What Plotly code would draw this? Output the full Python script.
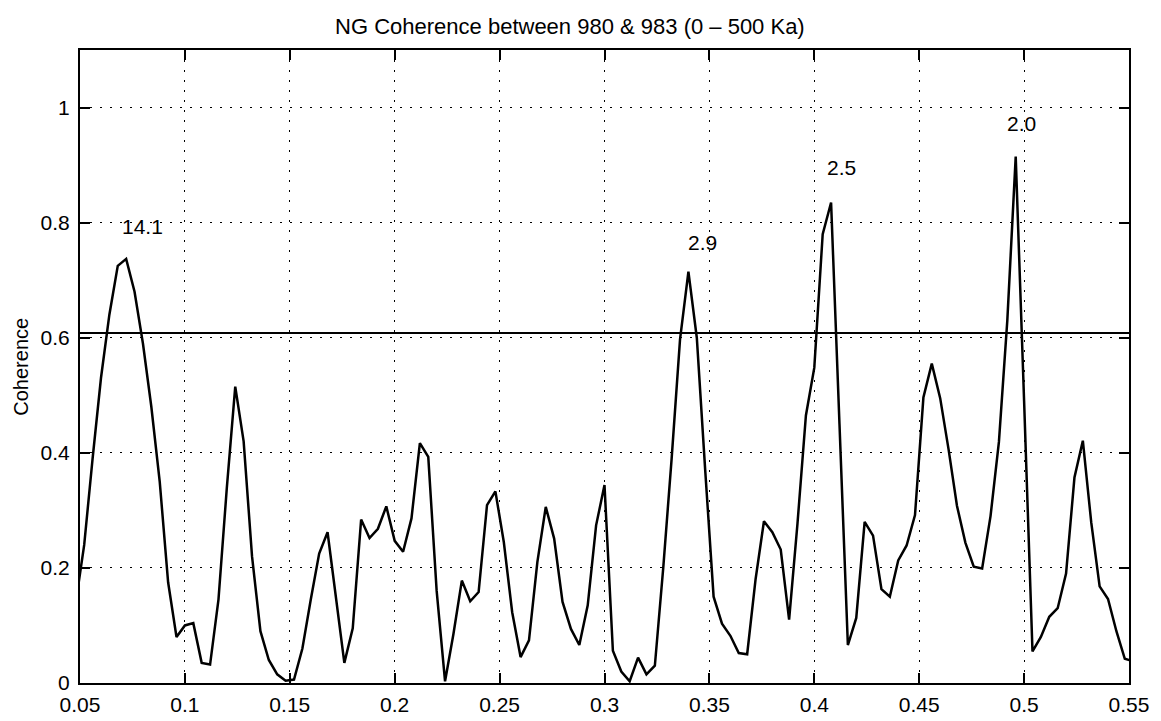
import plotly.graph_objects as go

# Frequency (cycles/ka) and squared coherence between sites 980 and 983
freq = [
    0.048, 0.052, 0.056, 0.060, 0.064, 0.068, 0.072, 0.076, 0.080, 0.084,
    0.088, 0.092, 0.096, 0.100, 0.104, 0.108, 0.112, 0.116, 0.120, 0.124,
    0.128, 0.132, 0.136, 0.140, 0.144, 0.148, 0.152, 0.156, 0.160, 0.164,
    0.168, 0.172, 0.176, 0.180, 0.184, 0.188, 0.192, 0.196, 0.200, 0.204,
    0.208, 0.212, 0.216, 0.220, 0.224, 0.228, 0.232, 0.236, 0.240, 0.244,
    0.248, 0.252, 0.256, 0.260, 0.264, 0.268, 0.272, 0.276, 0.280, 0.284,
    0.288, 0.292, 0.296, 0.300, 0.304, 0.308, 0.312, 0.316, 0.320, 0.324,
    0.328, 0.332, 0.336, 0.340, 0.344, 0.348, 0.352, 0.356, 0.360, 0.364,
    0.368, 0.372, 0.376, 0.380, 0.384, 0.388, 0.392, 0.396, 0.400, 0.404,
    0.408, 0.412, 0.416, 0.420, 0.424, 0.428, 0.432, 0.436, 0.440, 0.444,
    0.448, 0.452, 0.456, 0.460, 0.464, 0.468, 0.472, 0.476, 0.480, 0.484,
    0.488, 0.492, 0.496, 0.500, 0.504, 0.508, 0.512, 0.516, 0.520, 0.524,
    0.528, 0.532, 0.536, 0.540, 0.544, 0.548, 0.552,
]
coherence = [
    0.140, 0.240, 0.390, 0.530, 0.640, 0.725, 0.737, 0.680, 0.590, 0.480,
    0.350, 0.175, 0.080, 0.100, 0.104, 0.035, 0.032, 0.145, 0.340, 0.515,
    0.420, 0.220, 0.090, 0.040, 0.015, 0.004, 0.006, 0.060, 0.145, 0.225,
    0.262, 0.150, 0.035, 0.095, 0.284, 0.252, 0.268, 0.307, 0.247, 0.228,
    0.286, 0.417, 0.393, 0.160, 0.003, 0.085, 0.178, 0.142, 0.158, 0.309,
    0.333, 0.245, 0.123, 0.045, 0.074, 0.210, 0.306, 0.251, 0.141, 0.094,
    0.066, 0.135, 0.274, 0.344, 0.056, 0.020, 0.003, 0.044, 0.015, 0.030,
    0.200, 0.390, 0.597, 0.715, 0.600, 0.370, 0.150, 0.103, 0.082, 0.052,
    0.050, 0.180, 0.281, 0.262, 0.232, 0.110, 0.278, 0.465, 0.548, 0.780,
    0.835, 0.450, 0.066, 0.113, 0.280, 0.256, 0.163, 0.150, 0.213, 0.239,
    0.292, 0.496, 0.555, 0.495, 0.406, 0.308, 0.244, 0.202, 0.199, 0.290,
    0.419, 0.630, 0.915, 0.490, 0.055, 0.080, 0.115, 0.130, 0.190, 0.357,
    0.421, 0.279, 0.168, 0.146, 0.090, 0.042, 0.038,
]

# Significance level
significance = 0.608

# Period labels (ka) placed above the coherent peaks
peak_labels = ["14.1", "2.9", "2.5", "2.0"]
peak_label_x = [0.069, 0.339, 0.405, 0.491]
peak_label_y = [0.793, 0.766, 0.896, 0.973]

x_ticks = [0.05, 0.10, 0.15, 0.20, 0.25, 0.30, 0.35, 0.40, 0.45, 0.50, 0.55]
x_ticktext = ["0.05", "0.1", "0.15", "0.2", "0.25", "0.3", "0.35", "0.4", "0.45", "0.5", "0.55"]
y_ticks = [0, 0.2, 0.4, 0.6, 0.8, 1.0]
y_ticktext = ["0", "0.2", "0.4", "0.6", "0.8", "1"]

FONT = "Liberation Sans, Arial, Helvetica, sans-serif"

fig = go.Figure()

fig.add_trace(go.Scatter(
    x=freq, y=coherence, mode="lines",
    line=dict(color="black", width=2.5),
    showlegend=False, hoverinfo="skip",
))

fig.add_trace(go.Scatter(
    x=[x_ticks[0], x_ticks[-1]], y=[significance, significance], mode="lines",
    line=dict(color="black", width=2),
    showlegend=False, hoverinfo="skip",
))

for txt, px, py in zip(peak_labels, peak_label_x, peak_label_y):
    fig.add_annotation(
        x=px, y=py, text=txt, showarrow=False,
        xanchor="left", yanchor="middle",
        font=dict(family=FONT, size=21, color="black"),
    )

axis_common = dict(
    showline=True, linecolor="black", linewidth=2, mirror="ticks",
    ticks="inside", ticklen=10, tickwidth=1.5, tickcolor="black",
    showgrid=True, gridcolor="black", gridwidth=1.3, griddash="2px,8px",
    zeroline=False, automargin=False,
    tickfont=dict(family=FONT, size=21, color="black"),
)

fig.update_xaxes(
    range=[0.05, 0.55], tickvals=x_ticks, ticktext=x_ticktext,
    ticklabelstandoff=2, **axis_common,
)
fig.update_yaxes(
    range=[0, 1.1], tickvals=y_ticks, ticktext=y_ticktext,
    ticklabelstandoff=4, **axis_common,
)

fig.add_annotation(
    xref="paper", yref="paper", x=-0.057, y=0.5, text="Coherence",
    textangle=-90, showarrow=False, xanchor="center", yanchor="middle",
    font=dict(family=FONT, size=20, color="black"),
)

fig.update_layout(
    width=1161, height=721,
    margin=dict(l=80, r=32, t=50, b=38),
    paper_bgcolor="white", plot_bgcolor="white",
    title=dict(
        text="NG Coherence between 980 &amp; 983 (0 \u2013 500 Ka)",
        x=0.467, xref="paper", xanchor="center",
        y=1 - 26 / 721, yref="container", yanchor="middle",
        font=dict(family=FONT, size=22, color="black"),
    ),
)

fig.write_html("out.html")
